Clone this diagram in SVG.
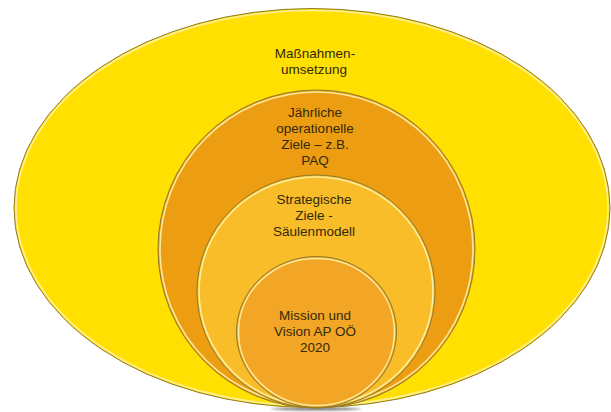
<svg xmlns="http://www.w3.org/2000/svg" width="611" height="412" viewBox="0 0 611 412">
  <defs>
    <filter id="blur" x="-20%" y="-200%" width="140%" height="500%">
      <feGaussianBlur stdDeviation="1"/>
    </filter>
  </defs>
  <style>
    .edge { stroke: #8f7a2a; stroke-width: 1; }
    .hl { fill: none; stroke: #fff1a8; stroke-width: 1.6; opacity: 0.9; }
    .lbl { font-family: "Liberation Sans", Arial, sans-serif; font-size: 13.5px; fill: #33290a; text-anchor: middle; }
  </style>
  <rect x="0" y="0" width="611" height="412" fill="#ffffff"/>
  <ellipse cx="316" cy="409" rx="45" ry="1.5" fill="#222" opacity="0.6" filter="url(#blur)"/>
  <g id="massnahmen">
    <ellipse cx="312" cy="208" rx="298" ry="199.5" fill="#ffe000" class="edge" stroke="#8c8a5a"/>
    <ellipse cx="312" cy="208" rx="296" ry="197.5" class="hl" stroke="#fff37a"/>
    <text class="lbl" x="315" y="58">Maßnahmen-</text>
    <text class="lbl" x="314" y="74">umsetzung</text>
  </g>
  <g id="jaehrliche">
    <ellipse cx="316.5" cy="249" rx="158.5" ry="159" fill="#ec9d12" class="edge"/>
    <ellipse cx="316.5" cy="249" rx="156.5" ry="157" class="hl"/>
    <text class="lbl" x="315" y="117">Jährliche</text>
    <text class="lbl" x="315" y="133">operationelle</text>
    <text class="lbl" x="315" y="149">Ziele – z.B.</text>
    <text class="lbl" x="315" y="165">PAQ</text>
  </g>
  <g id="strategische">
    <ellipse cx="316" cy="291.5" rx="119" ry="116.5" fill="#f8bd28" class="edge"/>
    <ellipse cx="316" cy="291.5" rx="117" ry="114.5" class="hl"/>
    <text class="lbl" x="314" y="204">Strategische</text>
    <text class="lbl" x="314" y="220">Ziele -</text>
    <text class="lbl" x="314" y="236">Säulenmodell</text>
  </g>
  <g id="mission">
    <ellipse cx="316.5" cy="332" rx="80" ry="75.5" fill="#f3a625" class="edge"/>
    <ellipse cx="316.5" cy="332" rx="78" ry="73.5" class="hl"/>
    <text class="lbl" x="315" y="320">Mission und</text>
    <text class="lbl" x="315" y="336">Vision AP OÖ</text>
    <text class="lbl" x="315" y="352">2020</text>
  </g>
  <g id="connectors"/>
</svg>
